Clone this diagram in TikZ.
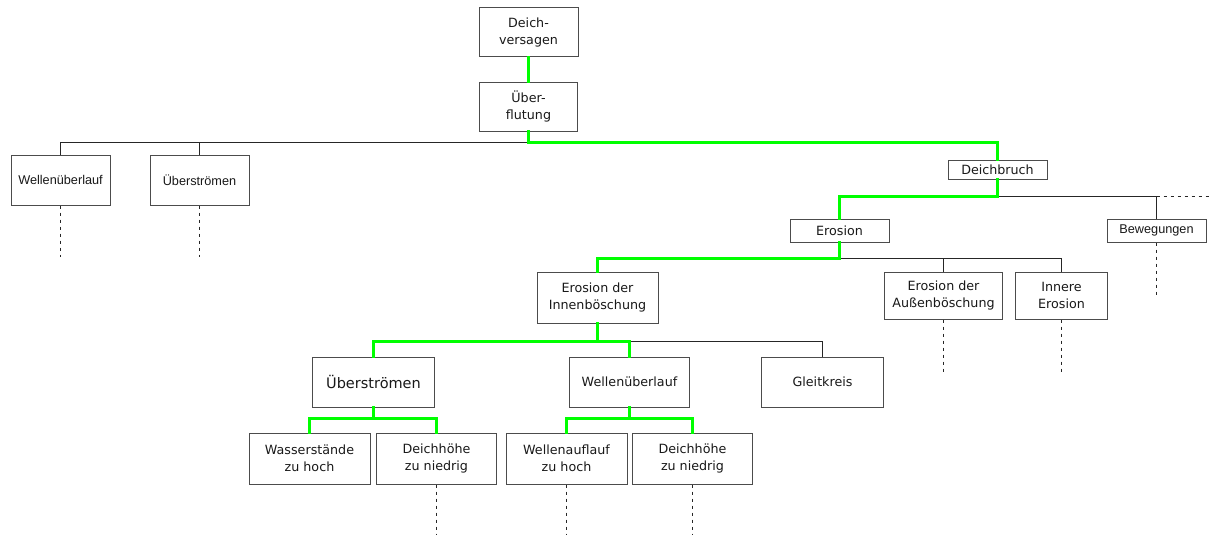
\documentclass[tikz,border=0pt]{standalone}
\usepackage{fontspec}
\setmainfont{DejaVu Sans}
\newfontfamily\arialf{Liberation Sans}
\usetikzlibrary{calc}
\begin{document}
\begin{tikzpicture}[x=1pt,y=-1pt,
  box/.style={draw=black!70, line width=1pt, fill=white, inner sep=0pt, align=center,
    font=\fontsize{12.7}{17}\selectfont, text=black!90},
  abox/.style={box, font=\arialf\fontsize{12.7}{15}\selectfont},
  bline/.style={draw=black!85, line width=1pt},
  gline/.style={color={rgb,255:red,0;green,255;blue,0}, line width=3pt, line cap=rect},
  dots/.style={draw=black!85, line width=1.6pt, dash pattern=on 3pt off 4pt}]
\useasboundingbox[fill=white] (0,0) rectangle (1210,535);
\newcommand{\bx}[6]{\node[#1, minimum width=#4pt, minimum height=#5pt] (#2) at (#3) {#6};}
\bx{box}{versagen}{528.5,32.5}{99}{49}{Deich-\\versagen}
\bx{box}{flutung}{528.5,106.5}{98}{49}{Über-\\flutung}
\bx{abox}{wlA}{60.5,180}{99}{50}{Wellenüberlauf}
\bx{abox}{ueA}{199.5,180}{99}{50}{Überströmen}
\bx{box}{bruch}{997.5,169.5}{99}{19}{Deichbruch}
\bx{box}{erosion}{839.5,230.5}{99}{23}{Erosion}
\bx{abox}{beweg}{1156.5,230.5}{99}{23}{Bewegungen}
\bx{box}{einnen}{597.5,297.5}{121}{51}{Erosion der\\Innenböschung}
\bx{box}{aussen}{943.5,295.5}{118}{47}{Erosion der\\Außenböschung}
\bx{box}{innere}{1061.5,295.5}{92}{47}{Innere\\Erosion}
\node[box, minimum width=122pt, minimum height=50pt, font=\fontsize{14.5}{17}\selectfont] (ueB) at (373.5,382) {Überströmen};
\bx{box}{wuB}{629.5,382}{120}{50}{Wellenüberlauf}
\bx{box}{gleit}{822.5,382}{122}{50}{Gleitkreis}
\bx{box}{wz}{309.5,458.5}{121}{51}{Wasserstände\\zu hoch}
\bx{box}{dnA}{436.5,458.5}{120}{51}{Deichhöhe\\zu niedrig}
\bx{box}{wa}{566.5,458.5}{121}{51}{Wellenauflauf\\zu hoch}
\bx{box}{dnB}{692.5,458.5}{120}{51}{Deichhöhe\\zu niedrig}
% bus levels
\coordinate (b1) at (0,142.5);
\coordinate (b2) at (0,196.5);
\coordinate (b3) at (0,258.5);
\coordinate (b4) at (0,341.5);
\coordinate (b5) at (0,418.5);
\coordinate (rend) at (1210,196.5);
\coordinate (e1) at (0,257);
\coordinate (e2) at (0,295);
\coordinate (e3) at (0,372);
\coordinate (e4) at (0,535);
% black connectors
\draw[bline] (flutung.south |- b1) -| (wlA.north);
\draw[bline] (ueA.north) -- (ueA.north |- b1);
\draw[bline] (bruch.south |- b2) -| (beweg.north);
\draw[dots] (beweg.north |- b2) -- (rend);
\draw[bline] (erosion.south |- b3) -| (innere.north);
\draw[bline] (aussen.north) -- (aussen.north |- b3);
\draw[bline] (wuB.north |- b4) -| (gleit.north);
% dotted continuations
\draw[dots] (wlA.south) -- (wlA.south |- e1);
\draw[dots] (ueA.south) -- (ueA.south |- e1);
\draw[dots] (beweg.south) -- (beweg.south |- e2);
\draw[dots] (aussen.south) -- (aussen.south |- e3);
\draw[dots] (innere.south) -- (innere.south |- e3);
\draw[dots] (dnA.south) -- (dnA.south |- e4);
\draw[dots] (wa.south) -- (wa.south |- e4);
\draw[dots] (dnB.south) -- (dnB.south |- e4);
% green path
\draw[gline] (versagen.south) -- (flutung.north);
\draw[gline] (flutung.south) -- (flutung.south |- b1) -| (bruch.north);
\draw[gline] (bruch.south) -- (bruch.south |- b2) -| (erosion.north);
\draw[gline] (erosion.south) -- (erosion.south |- b3) -| (einnen.north);
\draw[gline] (einnen.south) -- (einnen.south |- b4) -| (ueB.north);
\draw[gline] (einnen.south |- b4) -| (wuB.north);
\draw[gline] (ueB.south) -- (ueB.south |- b5) -| (wz.north);
\draw[gline] (ueB.south |- b5) -| (dnA.north);
\draw[gline] (wuB.south) -- (wuB.south |- b5) -| (wa.north);
\draw[gline] (wuB.south |- b5) -| (dnB.north);
\end{tikzpicture}
\end{document}
